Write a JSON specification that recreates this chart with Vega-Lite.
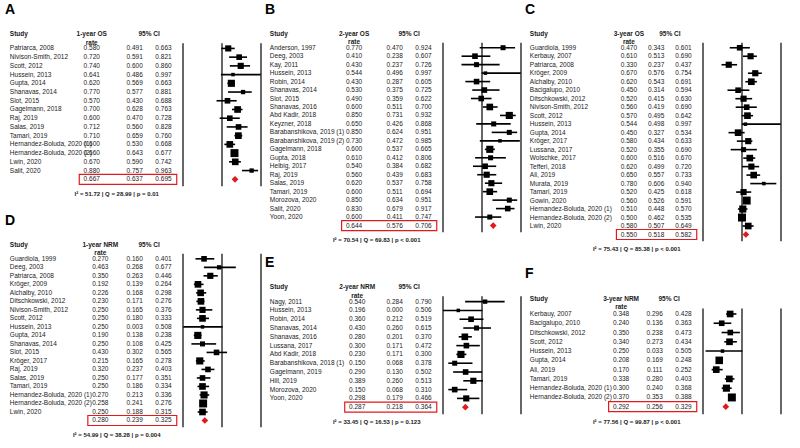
{
"$schema": "https://vega.github.io/schema/vega-lite/v6.json",
"padding": {"left": 5, "top": 3, "right": 0, "bottom": 0},
"background": "white",
"config": {"view": {"stroke": null}, "title": {"anchor": "start", "fontSize": 14, "fontWeight": "bold", "offset": 2, "font": "Liberation Sans", "color": "#000"}, "text": {"font": "Liberation Sans", "fontSize": 6.5, "color": "#1a1a1a", "baseline": "middle"}},
"datasets": {
"panels": [
{"p":"A","metric":"1-year OS\nrate","stats":"I² = 51.72 | Q = 28.99 | p = 0.01"},
{"p":"B","metric":"2-year OS\nrate","stats":"I² = 70.54 | Q = 69.83 | p < 0.001"},
{"p":"C","metric":"3-year OS\nrate","stats":"I² = 75.43 | Q = 85.38 | p < 0.001"},
{"p":"D","metric":"1-year NRM\nrate","stats":"I² = 54.99 | Q = 38.28 | p = 0.004"},
{"p":"E","metric":"2-year NRM\nrate","stats":"I² = 33.45 | Q = 16.53 | p = 0.123"},
{"p":"F","metric":"3-year NRM\nrate","stats":"I² = 77.56 | Q = 99.87 | p < 0.001"}
],
"studies": [
{"p":"A","k":"s","row":1,"study":"Patriarca, 2008","rate":0.580,"lo":0.491,"hi":0.663,"w":5},
{"p":"A","k":"s","row":2,"study":"Nivison-Smith, 2012","rate":0.720,"lo":0.591,"hi":0.821,"w":4},
{"p":"A","k":"s","row":3,"study":"Scott, 2012","rate":0.740,"lo":0.600,"hi":0.860,"w":5},
{"p":"A","k":"s","row":4,"study":"Hussein, 2013","rate":0.641,"lo":0.486,"hi":0.997,"w":1},
{"p":"A","k":"s","row":5,"study":"Gupta, 2014","rate":0.620,"lo":0.569,"hi":0.663,"w":7},
{"p":"A","k":"s","row":6,"study":"Shanavas, 2014","rate":0.770,"lo":0.577,"hi":0.881,"w":2},
{"p":"A","k":"s","row":7,"study":"Slot, 2015","rate":0.570,"lo":0.430,"hi":0.688,"w":4},
{"p":"A","k":"s","row":8,"study":"Gagelmann, 2018","rate":0.700,"lo":0.628,"hi":0.763,"w":6},
{"p":"A","k":"s","row":9,"study":"Raj, 2019","rate":0.600,"lo":0.470,"hi":0.728,"w":4},
{"p":"A","k":"s","row":10,"study":"Salas, 2019","rate":0.712,"lo":0.560,"hi":0.828,"w":4},
{"p":"A","k":"s","row":11,"study":"Tamari, 2019","rate":0.710,"lo":0.659,"hi":0.760,"w":6},
{"p":"A","k":"s","row":12,"study":"Hernandez-Boluda, 2020 (1)","rate":0.600,"lo":0.530,"hi":0.668,"w":6},
{"p":"A","k":"s","row":13,"study":"Hernandez-Boluda, 2020 (2)","rate":0.660,"lo":0.643,"hi":0.677,"w":9},
{"p":"A","k":"s","row":14,"study":"Lwin, 2020","rate":0.670,"lo":0.590,"hi":0.742,"w":6},
{"p":"A","k":"s","row":15,"study":"Salit, 2020","rate":0.880,"lo":0.757,"hi":0.963,"w":2},
{"p":"A","k":"p","row":16,"study":"","rate":0.667,"lo":0.637,"hi":0.695,"w":0},
{"p":"B","k":"s","row":1,"study":"Anderson, 1997","rate":0.770,"lo":0.470,"hi":0.924,"w":3},
{"p":"B","k":"s","row":2,"study":"Deeg, 2003","rate":0.410,"lo":0.238,"hi":0.607,"w":4},
{"p":"B","k":"s","row":3,"study":"Kay, 2011","rate":0.430,"lo":0.237,"hi":0.726,"w":3},
{"p":"B","k":"s","row":4,"study":"Hussein, 2013","rate":0.544,"lo":0.496,"hi":0.997,"w":1},
{"p":"B","k":"s","row":5,"study":"Robin, 2014","rate":0.430,"lo":0.287,"hi":0.605,"w":4},
{"p":"B","k":"s","row":6,"study":"Shanavas, 2014","rate":0.530,"lo":0.375,"hi":0.725,"w":4},
{"p":"B","k":"s","row":7,"study":"Slot, 2015","rate":0.490,"lo":0.359,"hi":0.622,"w":4},
{"p":"B","k":"s","row":8,"study":"Shanavas, 2016","rate":0.600,"lo":0.511,"hi":0.700,"w":6},
{"p":"B","k":"s","row":9,"study":"Abd Kadir, 2018","rate":0.850,"lo":0.731,"hi":0.932,"w":7},
{"p":"B","k":"s","row":10,"study":"Keyzner, 2018","rate":0.650,"lo":0.426,"hi":0.868,"w":3},
{"p":"B","k":"s","row":11,"study":"Barabanshikova, 2019 (1)","rate":0.850,"lo":0.624,"hi":0.951,"w":3},
{"p":"B","k":"s","row":12,"study":"Barabanshikova, 2019 (2)","rate":0.730,"lo":0.472,"hi":0.985,"w":1},
{"p":"B","k":"s","row":13,"study":"Gagelmann, 2018","rate":0.600,"lo":0.537,"hi":0.665,"w":7},
{"p":"B","k":"s","row":14,"study":"Gupta, 2018","rate":0.610,"lo":0.412,"hi":0.806,"w":3},
{"p":"B","k":"s","row":15,"study":"Helbig, 2017","rate":0.540,"lo":0.384,"hi":0.682,"w":4},
{"p":"B","k":"s","row":16,"study":"Raj, 2019","rate":0.560,"lo":0.439,"hi":0.683,"w":5},
{"p":"B","k":"s","row":17,"study":"Salas, 2019","rate":0.620,"lo":0.537,"hi":0.758,"w":5},
{"p":"B","k":"s","row":18,"study":"Tamari, 2019","rate":0.600,"lo":0.511,"hi":0.694,"w":6},
{"p":"B","k":"s","row":19,"study":"Morozova, 2020","rate":0.850,"lo":0.634,"hi":0.951,"w":3},
{"p":"B","k":"s","row":20,"study":"Salit, 2020","rate":0.830,"lo":0.679,"hi":0.917,"w":4},
{"p":"B","k":"s","row":21,"study":"Yoon, 2020","rate":0.600,"lo":0.411,"hi":0.747,"w":3},
{"p":"B","k":"p","row":22,"study":"","rate":0.644,"lo":0.576,"hi":0.706,"w":0},
{"p":"C","k":"s","row":1,"study":"Guardiola, 1999","rate":0.470,"lo":0.343,"hi":0.601,"w":4},
{"p":"C","k":"s","row":2,"study":"Kerbauy, 2007","rate":0.610,"lo":0.513,"hi":0.690,"w":5},
{"p":"C","k":"s","row":3,"study":"Patriarca, 2008","rate":0.330,"lo":0.237,"hi":0.437,"w":5},
{"p":"C","k":"s","row":4,"study":"Kröger, 2009","rate":0.670,"lo":0.576,"hi":0.754,"w":5},
{"p":"C","k":"s","row":5,"study":"Alchalby, 2010","rate":0.620,"lo":0.543,"hi":0.691,"w":6},
{"p":"C","k":"s","row":6,"study":"Bacigalupo, 2010","rate":0.450,"lo":0.314,"hi":0.594,"w":4},
{"p":"C","k":"s","row":7,"study":"Ditschkowski, 2012","rate":0.520,"lo":0.415,"hi":0.630,"w":5},
{"p":"C","k":"s","row":8,"study":"Nivison-Smith, 2012","rate":0.560,"lo":0.419,"hi":0.690,"w":4},
{"p":"C","k":"s","row":9,"study":"Scott, 2012","rate":0.570,"lo":0.495,"hi":0.642,"w":6},
{"p":"C","k":"s","row":10,"study":"Hussein, 2013","rate":0.544,"lo":0.498,"hi":0.997,"w":1},
{"p":"C","k":"s","row":11,"study":"Gupta, 2014","rate":0.450,"lo":0.327,"hi":0.534,"w":6},
{"p":"C","k":"s","row":12,"study":"Kröger, 2017","rate":0.580,"lo":0.434,"hi":0.633,"w":5},
{"p":"C","k":"s","row":13,"study":"Lussana, 2017","rate":0.520,"lo":0.355,"hi":0.690,"w":3},
{"p":"C","k":"s","row":14,"study":"Wolschke, 2017","rate":0.600,"lo":0.516,"hi":0.670,"w":6},
{"p":"C","k":"s","row":15,"study":"Tefferi, 2018","rate":0.620,"lo":0.499,"hi":0.720,"w":5},
{"p":"C","k":"s","row":16,"study":"Ali, 2019","rate":0.650,"lo":0.557,"hi":0.733,"w":6},
{"p":"C","k":"s","row":17,"study":"Murata, 2019","rate":0.780,"lo":0.606,"hi":0.940,"w":1},
{"p":"C","k":"s","row":18,"study":"Tamari, 2019","rate":0.520,"lo":0.425,"hi":0.618,"w":5},
{"p":"C","k":"s","row":19,"study":"Gowin, 2020","rate":0.560,"lo":0.526,"hi":0.591,"w":9},
{"p":"C","k":"s","row":20,"study":"Hernandez-Boluda, 2020 (1)","rate":0.510,"lo":0.448,"hi":0.570,"w":7},
{"p":"C","k":"s","row":21,"study":"Hernandez-Boluda, 2020 (2)","rate":0.500,"lo":0.462,"hi":0.535,"w":9},
{"p":"C","k":"s","row":22,"study":"Lwin, 2020","rate":0.580,"lo":0.507,"hi":0.649,"w":6},
{"p":"C","k":"p","row":23,"study":"","rate":0.550,"lo":0.518,"hi":0.582,"w":0},
{"p":"D","k":"s","row":1,"study":"Guardiola, 1999","rate":0.270,"lo":0.160,"hi":0.401,"w":4},
{"p":"D","k":"s","row":2,"study":"Deeg, 2003","rate":0.463,"lo":0.268,"hi":0.677,"w":2},
{"p":"D","k":"s","row":3,"study":"Patriarca, 2008","rate":0.350,"lo":0.263,"hi":0.446,"w":5},
{"p":"D","k":"s","row":4,"study":"Kröger, 2009","rate":0.192,"lo":0.139,"hi":0.264,"w":6},
{"p":"D","k":"s","row":5,"study":"Alchalby, 2010","rate":0.226,"lo":0.168,"hi":0.298,"w":6},
{"p":"D","k":"s","row":6,"study":"Ditschkowski, 2012","rate":0.230,"lo":0.171,"hi":0.276,"w":6},
{"p":"D","k":"s","row":7,"study":"Nivison-Smith, 2012","rate":0.250,"lo":0.165,"hi":0.376,"w":5},
{"p":"D","k":"s","row":8,"study":"Scott, 2012","rate":0.250,"lo":0.180,"hi":0.333,"w":6},
{"p":"D","k":"s","row":9,"study":"Hussein, 2013","rate":0.250,"lo":0.003,"hi":0.508,"w":1},
{"p":"D","k":"s","row":10,"study":"Gupta, 2014","rate":0.190,"lo":0.138,"hi":0.238,"w":7},
{"p":"D","k":"s","row":11,"study":"Shanavas, 2014","rate":0.250,"lo":0.108,"hi":0.425,"w":3},
{"p":"D","k":"s","row":12,"study":"Slot, 2015","rate":0.430,"lo":0.302,"hi":0.565,"w":4},
{"p":"D","k":"s","row":13,"study":"Kröger, 2017","rate":0.215,"lo":0.165,"hi":0.278,"w":7},
{"p":"D","k":"s","row":14,"study":"Raj, 2019","rate":0.320,"lo":0.237,"hi":0.403,"w":4},
{"p":"D","k":"s","row":15,"study":"Salas, 2019","rate":0.250,"lo":0.177,"hi":0.351,"w":4},
{"p":"D","k":"s","row":16,"study":"Tamari, 2019","rate":0.250,"lo":0.186,"hi":0.334,"w":6},
{"p":"D","k":"s","row":17,"study":"Hernandez-Boluda, 2020 (1)","rate":0.270,"lo":0.213,"hi":0.336,"w":7},
{"p":"D","k":"s","row":18,"study":"Hernandez-Boluda, 2020 (2)","rate":0.258,"lo":0.241,"hi":0.276,"w":9},
{"p":"D","k":"s","row":19,"study":"Lwin, 2020","rate":0.250,"lo":0.188,"hi":0.315,"w":6},
{"p":"D","k":"p","row":20,"study":"","rate":0.280,"lo":0.239,"hi":0.325,"w":0},
{"p":"E","k":"s","row":1,"study":"Nagy, 2011","rate":0.540,"lo":0.284,"hi":0.790,"w":2},
{"p":"E","k":"s","row":2,"study":"Hussein, 2013","rate":0.196,"lo":0.000,"hi":0.506,"w":1},
{"p":"E","k":"s","row":3,"study":"Robin, 2014","rate":0.360,"lo":0.212,"hi":0.519,"w":4},
{"p":"E","k":"s","row":4,"study":"Shanavas, 2014","rate":0.430,"lo":0.260,"hi":0.615,"w":3},
{"p":"E","k":"s","row":5,"study":"Shanavas, 2016","rate":0.280,"lo":0.201,"hi":0.370,"w":6},
{"p":"E","k":"s","row":6,"study":"Lussana, 2017","rate":0.300,"lo":0.171,"hi":0.472,"w":4},
{"p":"E","k":"s","row":7,"study":"Abd Kadir, 2018","rate":0.230,"lo":0.171,"hi":0.300,"w":7},
{"p":"E","k":"s","row":8,"study":"Barabanshikova, 2018 (1)","rate":0.150,"lo":0.068,"hi":0.378,"w":3},
{"p":"E","k":"s","row":9,"study":"Gagelmann, 2019","rate":0.290,"lo":0.130,"hi":0.502,"w":4},
{"p":"E","k":"s","row":10,"study":"Hill, 2019","rate":0.389,"lo":0.260,"hi":0.513,"w":5},
{"p":"E","k":"s","row":11,"study":"Morozova, 2020","rate":0.150,"lo":0.068,"hi":0.310,"w":4},
{"p":"E","k":"s","row":12,"study":"Yoon, 2020","rate":0.298,"lo":0.179,"hi":0.466,"w":5},
{"p":"E","k":"p","row":13,"study":"","rate":0.287,"lo":0.218,"hi":0.364,"w":0},
{"p":"F","k":"s","row":1,"study":"Kerbauy, 2007","rate":0.348,"lo":0.296,"hi":0.428,"w":6},
{"p":"F","k":"s","row":2,"study":"Bacigalupo, 2010","rate":0.240,"lo":0.136,"hi":0.363,"w":4},
{"p":"F","k":"s","row":3,"study":"Ditschkowski, 2012","rate":0.350,"lo":0.238,"hi":0.473,"w":4},
{"p":"F","k":"s","row":4,"study":"Scott, 2012","rate":0.340,"lo":0.273,"hi":0.434,"w":6},
{"p":"F","k":"s","row":5,"study":"Hussein, 2013","rate":0.250,"lo":0.033,"hi":0.505,"w":1},
{"p":"F","k":"s","row":6,"study":"Gupta, 2014","rate":0.208,"lo":0.169,"hi":0.248,"w":8},
{"p":"F","k":"s","row":7,"study":"Ali, 2019","rate":0.170,"lo":0.111,"hi":0.252,"w":6},
{"p":"F","k":"s","row":8,"study":"Tamari, 2019","rate":0.338,"lo":0.280,"hi":0.403,"w":6},
{"p":"F","k":"s","row":9,"study":"Hernandez-Boluda, 2020 (1)","rate":0.300,"lo":0.240,"hi":0.368,"w":7},
{"p":"F","k":"s","row":10,"study":"Hernandez-Boluda, 2020 (2)","rate":0.370,"lo":0.353,"hi":0.388,"w":9},
{"p":"F","k":"p","row":11,"study":"","rate":0.292,"lo":0.256,"hi":0.329,"w":0}
]
},
"bounds": "full",
"spacing": 3,
"hconcat": [
{"vconcat": [
{"title": "A", "width": 256, "height": 174, "layer": [
{"data": {"values": [{"v": 0}, {"v": 0.5}, {"v": 1}]}, "mark": {"type": "rule", "color": "#000", "strokeWidth": 1.2}, "encoding": {"x": {"field": "v", "type": "quantitative", "scale": {"domain": [-2.282, 1], "nice": false, "zero": false}, "axis": {"values": [0, 0.5, 1], "format": ".2f", "title": null, "domain": false, "ticks": false, "grid": false, "labelFontSize": 6, "labelPadding": 3, "labelFont": "Liberation Sans", "labelColor": "#000"}}, "y": {"datum": 0.4, "type": "quantitative", "scale": {"domain": [-1.8, 17], "reverse": true, "nice": false, "zero": false}, "axis": null}, "y2": {"datum": 16.8}}},
{"data": {"name": "studies"}, "transform": [{"filter": "datum.p === 'A' && datum.k === 's'"}], "mark": {"type": "rule", "color": "#000", "strokeWidth": 1.6}, "encoding": {"x": {"field": "lo", "type": "quantitative", "axis": null}, "x2": {"field": "hi"}, "y": {"field": "row", "type": "quantitative", "axis": null}}},
{"data": {"name": "studies"}, "transform": [{"filter": "datum.p === 'A' && datum.k === 's'"}], "mark": {"type": "point", "shape": "square", "filled": true, "color": "#000", "opacity": 1}, "encoding": {"x": {"field": "rate", "type": "quantitative", "axis": null}, "y": {"field": "row", "type": "quantitative", "axis": null}, "size": {"field": "w", "type": "quantitative", "scale": {"domain": [0, 10], "range": [6, 70]}, "legend": null}}},
{"data": {"name": "studies"}, "transform": [{"filter": "datum.p === 'A' && datum.k === 'p'"}], "mark": {"type": "point", "shape": "diamond", "filled": true, "color": "#e3191c", "opacity": 1, "size": 45}, "encoding": {"x": {"field": "rate", "type": "quantitative", "axis": null}, "y": {"field": "row", "type": "quantitative", "axis": null}}},
{"data": {"name": "studies"}, "transform": [{"filter": "datum.p === 'A' && datum.k === 'p'"}], "mark": {"type": "bar", "orient": "horizontal", "height": 10, "fillOpacity": 0, "stroke": "#e3191c", "strokeWidth": 1.2}, "encoding": {"x": {"datum": -1.33, "type": "quantitative", "axis": null}, "x2": {"datum": -0.08}, "y": {"field": "row", "type": "quantitative", "axis": null}}},
{"data": {"name": "studies"}, "transform": [{"filter": "datum.p === 'A' && datum.k === 's'"}], "mark": {"type": "text", "align": "left"}, "encoding": {"x": {"datum": -2.22, "type": "quantitative", "axis": null}, "y": {"field": "row", "type": "quantitative", "axis": null}, "text": {"field": "study"}}},
{"data": {"name": "studies"}, "transform": [{"filter": "datum.p === 'A'"}], "mark": {"type": "text", "align": "center"}, "encoding": {"x": {"datum": -1.17, "type": "quantitative", "axis": null}, "y": {"field": "row", "type": "quantitative", "axis": null}, "text": {"field": "rate", "format": ".3f"}}},
{"data": {"name": "studies"}, "transform": [{"filter": "datum.p === 'A'"}], "mark": {"type": "text", "align": "center"}, "encoding": {"x": {"datum": -0.62, "type": "quantitative", "axis": null}, "y": {"field": "row", "type": "quantitative", "axis": null}, "text": {"field": "lo", "format": ".3f"}}},
{"data": {"name": "studies"}, "transform": [{"filter": "datum.p === 'A'"}], "mark": {"type": "text", "align": "center"}, "encoding": {"x": {"datum": -0.25, "type": "quantitative", "axis": null}, "y": {"field": "row", "type": "quantitative", "axis": null}, "text": {"field": "hi", "format": ".3f"}}},
{"data": {"name": "panels"}, "transform": [{"filter": "datum.p === 'A'"}], "mark": {"type": "text", "align": "left", "fontWeight": "bold"}, "encoding": {"x": {"datum": -2.22, "type": "quantitative", "axis": null}, "y": {"datum": -0.65, "type": "quantitative", "axis": null}, "text": {"value": "Study"}}},
{"data": {"name": "panels"}, "transform": [{"filter": "datum.p === 'A'"}], "mark": {"type": "text", "align": "center", "fontWeight": "bold", "lineBreak": "\n", "lineHeight": 8.5}, "encoding": {"x": {"datum": -1.17, "type": "quantitative", "axis": null}, "y": {"datum": -0.65, "type": "quantitative", "axis": null}, "text": {"field": "metric"}}},
{"data": {"name": "panels"}, "transform": [{"filter": "datum.p === 'A'"}], "mark": {"type": "text", "align": "center", "fontWeight": "bold"}, "encoding": {"x": {"datum": -0.435, "type": "quantitative", "axis": null}, "y": {"datum": -0.65, "type": "quantitative", "axis": null}, "text": {"value": "95% CI"}}},
{"data": {"name": "panels"}, "transform": [{"filter": "datum.p === 'A'"}], "mark": {"type": "text", "align": "center", "baseline": "top", "dy": 3, "fontWeight": "bold", "fontSize": 6}, "encoding": {"x": {"datum": -0.85, "type": "quantitative", "axis": null}, "y": {"datum": 17, "type": "quantitative", "axis": null}, "text": {"field": "stats"}}}
]},
{"title": "D", "width": 256, "height": 204, "layer": [
{"data": {"values": [{"v": 0}, {"v": 0.5}, {"v": 1}]}, "mark": {"type": "rule", "color": "#000", "strokeWidth": 1.2}, "encoding": {"x": {"field": "v", "type": "quantitative", "scale": {"domain": [-2.282, 1], "nice": false, "zero": false}, "axis": {"values": [0, 0.5, 1], "format": ".2f", "title": null, "domain": false, "ticks": false, "grid": false, "labelFontSize": 6, "labelPadding": 3, "labelFont": "Liberation Sans", "labelColor": "#000"}}, "y": {"datum": 0.4, "type": "quantitative", "scale": {"domain": [-1.8, 21], "reverse": true, "nice": false, "zero": false}, "axis": null}, "y2": {"datum": 20.8}}},
{"data": {"name": "studies"}, "transform": [{"filter": "datum.p === 'D' && datum.k === 's'"}], "mark": {"type": "rule", "color": "#000", "strokeWidth": 1.6}, "encoding": {"x": {"field": "lo", "type": "quantitative", "axis": null}, "x2": {"field": "hi"}, "y": {"field": "row", "type": "quantitative", "axis": null}}},
{"data": {"name": "studies"}, "transform": [{"filter": "datum.p === 'D' && datum.k === 's'"}], "mark": {"type": "point", "shape": "square", "filled": true, "color": "#000", "opacity": 1}, "encoding": {"x": {"field": "rate", "type": "quantitative", "axis": null}, "y": {"field": "row", "type": "quantitative", "axis": null}, "size": {"field": "w", "type": "quantitative", "scale": {"domain": [0, 10], "range": [6, 70]}, "legend": null}}},
{"data": {"name": "studies"}, "transform": [{"filter": "datum.p === 'D' && datum.k === 'p'"}], "mark": {"type": "point", "shape": "diamond", "filled": true, "color": "#e3191c", "opacity": 1, "size": 45}, "encoding": {"x": {"field": "rate", "type": "quantitative", "axis": null}, "y": {"field": "row", "type": "quantitative", "axis": null}}},
{"data": {"name": "studies"}, "transform": [{"filter": "datum.p === 'D' && datum.k === 'p'"}], "mark": {"type": "bar", "orient": "horizontal", "height": 10, "fillOpacity": 0, "stroke": "#e3191c", "strokeWidth": 1.2}, "encoding": {"x": {"datum": -1.22, "type": "quantitative", "axis": null}, "x2": {"datum": -0.08}, "y": {"field": "row", "type": "quantitative", "axis": null}}},
{"data": {"name": "studies"}, "transform": [{"filter": "datum.p === 'D' && datum.k === 's'"}], "mark": {"type": "text", "align": "left"}, "encoding": {"x": {"datum": -2.22, "type": "quantitative", "axis": null}, "y": {"field": "row", "type": "quantitative", "axis": null}, "text": {"field": "study"}}},
{"data": {"name": "studies"}, "transform": [{"filter": "datum.p === 'D'"}], "mark": {"type": "text", "align": "center"}, "encoding": {"x": {"datum": -1.06, "type": "quantitative", "axis": null}, "y": {"field": "row", "type": "quantitative", "axis": null}, "text": {"field": "rate", "format": ".3f"}}},
{"data": {"name": "studies"}, "transform": [{"filter": "datum.p === 'D'"}], "mark": {"type": "text", "align": "center"}, "encoding": {"x": {"datum": -0.62, "type": "quantitative", "axis": null}, "y": {"field": "row", "type": "quantitative", "axis": null}, "text": {"field": "lo", "format": ".3f"}}},
{"data": {"name": "studies"}, "transform": [{"filter": "datum.p === 'D'"}], "mark": {"type": "text", "align": "center"}, "encoding": {"x": {"datum": -0.25, "type": "quantitative", "axis": null}, "y": {"field": "row", "type": "quantitative", "axis": null}, "text": {"field": "hi", "format": ".3f"}}},
{"data": {"name": "panels"}, "transform": [{"filter": "datum.p === 'D'"}], "mark": {"type": "text", "align": "left", "fontWeight": "bold"}, "encoding": {"x": {"datum": -2.22, "type": "quantitative", "axis": null}, "y": {"datum": -0.65, "type": "quantitative", "axis": null}, "text": {"value": "Study"}}},
{"data": {"name": "panels"}, "transform": [{"filter": "datum.p === 'D'"}], "mark": {"type": "text", "align": "center", "fontWeight": "bold", "lineBreak": "\n", "lineHeight": 8.5}, "encoding": {"x": {"datum": -1.06, "type": "quantitative", "axis": null}, "y": {"datum": -0.65, "type": "quantitative", "axis": null}, "text": {"field": "metric"}}},
{"data": {"name": "panels"}, "transform": [{"filter": "datum.p === 'D'"}], "mark": {"type": "text", "align": "center", "fontWeight": "bold"}, "encoding": {"x": {"datum": -0.435, "type": "quantitative", "axis": null}, "y": {"datum": -0.65, "type": "quantitative", "axis": null}, "text": {"value": "95% CI"}}},
{"data": {"name": "panels"}, "transform": [{"filter": "datum.p === 'D'"}], "mark": {"type": "text", "align": "center", "baseline": "top", "dy": 3, "fontWeight": "bold", "fontSize": 6}, "encoding": {"x": {"datum": -0.85, "type": "quantitative", "axis": null}, "y": {"datum": 21, "type": "quantitative", "axis": null}, "text": {"field": "stats"}}}
]}
], "spacing": 37, "bounds": "flush"},
{"vconcat": [
{"title": "B", "width": 256, "height": 220, "layer": [
{"data": {"values": [{"v": 0}, {"v": 0.5}, {"v": 1}]}, "mark": {"type": "rule", "color": "#000", "strokeWidth": 1.2}, "encoding": {"x": {"field": "v", "type": "quantitative", "scale": {"domain": [-2.282, 1], "nice": false, "zero": false}, "axis": {"values": [0, 0.5, 1], "format": ".2f", "title": null, "domain": false, "ticks": false, "grid": false, "labelFontSize": 6, "labelPadding": 3, "labelFont": "Liberation Sans", "labelColor": "#000"}}, "y": {"datum": 0.4, "type": "quantitative", "scale": {"domain": [-1.8, 23], "reverse": true, "nice": false, "zero": false}, "axis": null}, "y2": {"datum": 22.8}}},
{"data": {"name": "studies"}, "transform": [{"filter": "datum.p === 'B' && datum.k === 's'"}], "mark": {"type": "rule", "color": "#000", "strokeWidth": 1.6}, "encoding": {"x": {"field": "lo", "type": "quantitative", "axis": null}, "x2": {"field": "hi"}, "y": {"field": "row", "type": "quantitative", "axis": null}}},
{"data": {"name": "studies"}, "transform": [{"filter": "datum.p === 'B' && datum.k === 's'"}], "mark": {"type": "point", "shape": "square", "filled": true, "color": "#000", "opacity": 1}, "encoding": {"x": {"field": "rate", "type": "quantitative", "axis": null}, "y": {"field": "row", "type": "quantitative", "axis": null}, "size": {"field": "w", "type": "quantitative", "scale": {"domain": [0, 10], "range": [6, 70]}, "legend": null}}},
{"data": {"name": "studies"}, "transform": [{"filter": "datum.p === 'B' && datum.k === 'p'"}], "mark": {"type": "point", "shape": "diamond", "filled": true, "color": "#e3191c", "opacity": 1, "size": 45}, "encoding": {"x": {"field": "rate", "type": "quantitative", "axis": null}, "y": {"field": "row", "type": "quantitative", "axis": null}}},
{"data": {"name": "studies"}, "transform": [{"filter": "datum.p === 'B' && datum.k === 'p'"}], "mark": {"type": "bar", "orient": "horizontal", "height": 10, "fillOpacity": 0, "stroke": "#e3191c", "strokeWidth": 1.2}, "encoding": {"x": {"datum": -1.30, "type": "quantitative", "axis": null}, "x2": {"datum": -0.08}, "y": {"field": "row", "type": "quantitative", "axis": null}}},
{"data": {"name": "studies"}, "transform": [{"filter": "datum.p === 'B' && datum.k === 's'"}], "mark": {"type": "text", "align": "left"}, "encoding": {"x": {"datum": -2.22, "type": "quantitative", "axis": null}, "y": {"field": "row", "type": "quantitative", "axis": null}, "text": {"field": "study"}}},
{"data": {"name": "studies"}, "transform": [{"filter": "datum.p === 'B'"}], "mark": {"type": "text", "align": "center"}, "encoding": {"x": {"datum": -1.14, "type": "quantitative", "axis": null}, "y": {"field": "row", "type": "quantitative", "axis": null}, "text": {"field": "rate", "format": ".3f"}}},
{"data": {"name": "studies"}, "transform": [{"filter": "datum.p === 'B'"}], "mark": {"type": "text", "align": "center"}, "encoding": {"x": {"datum": -0.62, "type": "quantitative", "axis": null}, "y": {"field": "row", "type": "quantitative", "axis": null}, "text": {"field": "lo", "format": ".3f"}}},
{"data": {"name": "studies"}, "transform": [{"filter": "datum.p === 'B'"}], "mark": {"type": "text", "align": "center"}, "encoding": {"x": {"datum": -0.25, "type": "quantitative", "axis": null}, "y": {"field": "row", "type": "quantitative", "axis": null}, "text": {"field": "hi", "format": ".3f"}}},
{"data": {"name": "panels"}, "transform": [{"filter": "datum.p === 'B'"}], "mark": {"type": "text", "align": "left", "fontWeight": "bold"}, "encoding": {"x": {"datum": -2.22, "type": "quantitative", "axis": null}, "y": {"datum": -0.65, "type": "quantitative", "axis": null}, "text": {"value": "Study"}}},
{"data": {"name": "panels"}, "transform": [{"filter": "datum.p === 'B'"}], "mark": {"type": "text", "align": "center", "fontWeight": "bold", "lineBreak": "\n", "lineHeight": 8.5}, "encoding": {"x": {"datum": -1.14, "type": "quantitative", "axis": null}, "y": {"datum": -0.65, "type": "quantitative", "axis": null}, "text": {"field": "metric"}}},
{"data": {"name": "panels"}, "transform": [{"filter": "datum.p === 'B'"}], "mark": {"type": "text", "align": "center", "fontWeight": "bold"}, "encoding": {"x": {"datum": -0.435, "type": "quantitative", "axis": null}, "y": {"datum": -0.65, "type": "quantitative", "axis": null}, "text": {"value": "95% CI"}}},
{"data": {"name": "panels"}, "transform": [{"filter": "datum.p === 'B'"}], "mark": {"type": "text", "align": "center", "baseline": "top", "dy": 3, "fontWeight": "bold", "fontSize": 6}, "encoding": {"x": {"datum": -0.85, "type": "quantitative", "axis": null}, "y": {"datum": 23, "type": "quantitative", "axis": null}, "text": {"field": "stats"}}}
]},
{"title": "E", "width": 256, "height": 149, "layer": [
{"data": {"values": [{"v": 0}, {"v": 0.5}, {"v": 1}]}, "mark": {"type": "rule", "color": "#000", "strokeWidth": 1.2}, "encoding": {"x": {"field": "v", "type": "quantitative", "scale": {"domain": [-2.282, 1], "nice": false, "zero": false}, "axis": {"values": [0, 0.5, 1], "format": ".2f", "title": null, "domain": false, "ticks": false, "grid": false, "labelFontSize": 6, "labelPadding": 3, "labelFont": "Liberation Sans", "labelColor": "#000"}}, "y": {"datum": 0.4, "type": "quantitative", "scale": {"domain": [-1.8, 14], "reverse": true, "nice": false, "zero": false}, "axis": null}, "y2": {"datum": 13.8}}},
{"data": {"name": "studies"}, "transform": [{"filter": "datum.p === 'E' && datum.k === 's'"}], "mark": {"type": "rule", "color": "#000", "strokeWidth": 1.6}, "encoding": {"x": {"field": "lo", "type": "quantitative", "axis": null}, "x2": {"field": "hi"}, "y": {"field": "row", "type": "quantitative", "axis": null}}},
{"data": {"name": "studies"}, "transform": [{"filter": "datum.p === 'E' && datum.k === 's'"}], "mark": {"type": "point", "shape": "square", "filled": true, "color": "#000", "opacity": 1}, "encoding": {"x": {"field": "rate", "type": "quantitative", "axis": null}, "y": {"field": "row", "type": "quantitative", "axis": null}, "size": {"field": "w", "type": "quantitative", "scale": {"domain": [0, 10], "range": [6, 70]}, "legend": null}}},
{"data": {"name": "studies"}, "transform": [{"filter": "datum.p === 'E' && datum.k === 'p'"}], "mark": {"type": "point", "shape": "diamond", "filled": true, "color": "#e3191c", "opacity": 1, "size": 45}, "encoding": {"x": {"field": "rate", "type": "quantitative", "axis": null}, "y": {"field": "row", "type": "quantitative", "axis": null}}},
{"data": {"name": "studies"}, "transform": [{"filter": "datum.p === 'E' && datum.k === 'p'"}], "mark": {"type": "bar", "orient": "horizontal", "height": 10, "fillOpacity": 0, "stroke": "#e3191c", "strokeWidth": 1.2}, "encoding": {"x": {"datum": -1.26, "type": "quantitative", "axis": null}, "x2": {"datum": -0.08}, "y": {"field": "row", "type": "quantitative", "axis": null}}},
{"data": {"name": "studies"}, "transform": [{"filter": "datum.p === 'E' && datum.k === 's'"}], "mark": {"type": "text", "align": "left"}, "encoding": {"x": {"datum": -2.22, "type": "quantitative", "axis": null}, "y": {"field": "row", "type": "quantitative", "axis": null}, "text": {"field": "study"}}},
{"data": {"name": "studies"}, "transform": [{"filter": "datum.p === 'E'"}], "mark": {"type": "text", "align": "center"}, "encoding": {"x": {"datum": -1.10, "type": "quantitative", "axis": null}, "y": {"field": "row", "type": "quantitative", "axis": null}, "text": {"field": "rate", "format": ".3f"}}},
{"data": {"name": "studies"}, "transform": [{"filter": "datum.p === 'E'"}], "mark": {"type": "text", "align": "center"}, "encoding": {"x": {"datum": -0.62, "type": "quantitative", "axis": null}, "y": {"field": "row", "type": "quantitative", "axis": null}, "text": {"field": "lo", "format": ".3f"}}},
{"data": {"name": "studies"}, "transform": [{"filter": "datum.p === 'E'"}], "mark": {"type": "text", "align": "center"}, "encoding": {"x": {"datum": -0.25, "type": "quantitative", "axis": null}, "y": {"field": "row", "type": "quantitative", "axis": null}, "text": {"field": "hi", "format": ".3f"}}},
{"data": {"name": "panels"}, "transform": [{"filter": "datum.p === 'E'"}], "mark": {"type": "text", "align": "left", "fontWeight": "bold"}, "encoding": {"x": {"datum": -2.22, "type": "quantitative", "axis": null}, "y": {"datum": -0.65, "type": "quantitative", "axis": null}, "text": {"value": "Study"}}},
{"data": {"name": "panels"}, "transform": [{"filter": "datum.p === 'E'"}], "mark": {"type": "text", "align": "center", "fontWeight": "bold", "lineBreak": "\n", "lineHeight": 8.5}, "encoding": {"x": {"datum": -1.10, "type": "quantitative", "axis": null}, "y": {"datum": -0.65, "type": "quantitative", "axis": null}, "text": {"field": "metric"}}},
{"data": {"name": "panels"}, "transform": [{"filter": "datum.p === 'E'"}], "mark": {"type": "text", "align": "center", "fontWeight": "bold"}, "encoding": {"x": {"datum": -0.435, "type": "quantitative", "axis": null}, "y": {"datum": -0.65, "type": "quantitative", "axis": null}, "text": {"value": "95% CI"}}},
{"data": {"name": "panels"}, "transform": [{"filter": "datum.p === 'E'"}], "mark": {"type": "text", "align": "center", "baseline": "top", "dy": 3, "fontWeight": "bold", "fontSize": 6}, "encoding": {"x": {"datum": -0.85, "type": "quantitative", "axis": null}, "y": {"datum": 14, "type": "quantitative", "axis": null}, "text": {"field": "stats"}}}
]}
], "spacing": 33, "bounds": "flush"},
{"vconcat": [
{"title": "C", "width": 256, "height": 229, "layer": [
{"data": {"values": [{"v": 0}, {"v": 0.5}, {"v": 1}]}, "mark": {"type": "rule", "color": "#000", "strokeWidth": 1.2}, "encoding": {"x": {"field": "v", "type": "quantitative", "scale": {"domain": [-2.282, 1], "nice": false, "zero": false}, "axis": {"values": [0, 0.5, 1], "format": ".2f", "title": null, "domain": false, "ticks": false, "grid": false, "labelFontSize": 6, "labelPadding": 3, "labelFont": "Liberation Sans", "labelColor": "#000"}}, "y": {"datum": 0.4, "type": "quantitative", "scale": {"domain": [-1.8, 24], "reverse": true, "nice": false, "zero": false}, "axis": null}, "y2": {"datum": 23.8}}},
{"data": {"name": "studies"}, "transform": [{"filter": "datum.p === 'C' && datum.k === 's'"}], "mark": {"type": "rule", "color": "#000", "strokeWidth": 1.6}, "encoding": {"x": {"field": "lo", "type": "quantitative", "axis": null}, "x2": {"field": "hi"}, "y": {"field": "row", "type": "quantitative", "axis": null}}},
{"data": {"name": "studies"}, "transform": [{"filter": "datum.p === 'C' && datum.k === 's'"}], "mark": {"type": "point", "shape": "square", "filled": true, "color": "#000", "opacity": 1}, "encoding": {"x": {"field": "rate", "type": "quantitative", "axis": null}, "y": {"field": "row", "type": "quantitative", "axis": null}, "size": {"field": "w", "type": "quantitative", "scale": {"domain": [0, 10], "range": [6, 70]}, "legend": null}}},
{"data": {"name": "studies"}, "transform": [{"filter": "datum.p === 'C' && datum.k === 'p'"}], "mark": {"type": "point", "shape": "diamond", "filled": true, "color": "#e3191c", "opacity": 1, "size": 45}, "encoding": {"x": {"field": "rate", "type": "quantitative", "axis": null}, "y": {"field": "row", "type": "quantitative", "axis": null}}},
{"data": {"name": "studies"}, "transform": [{"filter": "datum.p === 'C' && datum.k === 'p'"}], "mark": {"type": "bar", "orient": "horizontal", "height": 10, "fillOpacity": 0, "stroke": "#e3191c", "strokeWidth": 1.2}, "encoding": {"x": {"datum": -1.11, "type": "quantitative", "axis": null}, "x2": {"datum": -0.08}, "y": {"field": "row", "type": "quantitative", "axis": null}}},
{"data": {"name": "studies"}, "transform": [{"filter": "datum.p === 'C' && datum.k === 's'"}], "mark": {"type": "text", "align": "left"}, "encoding": {"x": {"datum": -2.22, "type": "quantitative", "axis": null}, "y": {"field": "row", "type": "quantitative", "axis": null}, "text": {"field": "study"}}},
{"data": {"name": "studies"}, "transform": [{"filter": "datum.p === 'C'"}], "mark": {"type": "text", "align": "center"}, "encoding": {"x": {"datum": -0.95, "type": "quantitative", "axis": null}, "y": {"field": "row", "type": "quantitative", "axis": null}, "text": {"field": "rate", "format": ".3f"}}},
{"data": {"name": "studies"}, "transform": [{"filter": "datum.p === 'C'"}], "mark": {"type": "text", "align": "center"}, "encoding": {"x": {"datum": -0.60, "type": "quantitative", "axis": null}, "y": {"field": "row", "type": "quantitative", "axis": null}, "text": {"field": "lo", "format": ".3f"}}},
{"data": {"name": "studies"}, "transform": [{"filter": "datum.p === 'C'"}], "mark": {"type": "text", "align": "center"}, "encoding": {"x": {"datum": -0.25, "type": "quantitative", "axis": null}, "y": {"field": "row", "type": "quantitative", "axis": null}, "text": {"field": "hi", "format": ".3f"}}},
{"data": {"name": "panels"}, "transform": [{"filter": "datum.p === 'C'"}], "mark": {"type": "text", "align": "left", "fontWeight": "bold"}, "encoding": {"x": {"datum": -2.22, "type": "quantitative", "axis": null}, "y": {"datum": -0.65, "type": "quantitative", "axis": null}, "text": {"value": "Study"}}},
{"data": {"name": "panels"}, "transform": [{"filter": "datum.p === 'C'"}], "mark": {"type": "text", "align": "center", "fontWeight": "bold", "lineBreak": "\n", "lineHeight": 8.5}, "encoding": {"x": {"datum": -0.95, "type": "quantitative", "axis": null}, "y": {"datum": -0.65, "type": "quantitative", "axis": null}, "text": {"field": "metric"}}},
{"data": {"name": "panels"}, "transform": [{"filter": "datum.p === 'C'"}], "mark": {"type": "text", "align": "center", "fontWeight": "bold"}, "encoding": {"x": {"datum": -0.425, "type": "quantitative", "axis": null}, "y": {"datum": -0.65, "type": "quantitative", "axis": null}, "text": {"value": "95% CI"}}},
{"data": {"name": "panels"}, "transform": [{"filter": "datum.p === 'C'"}], "mark": {"type": "text", "align": "center", "baseline": "top", "dy": 3, "fontWeight": "bold", "fontSize": 6}, "encoding": {"x": {"datum": -0.85, "type": "quantitative", "axis": null}, "y": {"datum": 24, "type": "quantitative", "axis": null}, "text": {"field": "stats"}}}
]},
{"title": "F", "width": 256, "height": 138, "layer": [
{"data": {"values": [{"v": 0}, {"v": 0.5}, {"v": 1}]}, "mark": {"type": "rule", "color": "#000", "strokeWidth": 1.2}, "encoding": {"x": {"field": "v", "type": "quantitative", "scale": {"domain": [-2.282, 1], "nice": false, "zero": false}, "axis": {"values": [0, 0.5, 1], "format": ".2f", "title": null, "domain": false, "ticks": false, "grid": false, "labelFontSize": 6, "labelPadding": 3, "labelFont": "Liberation Sans", "labelColor": "#000"}}, "y": {"datum": 0.4, "type": "quantitative", "scale": {"domain": [-1.8, 12], "reverse": true, "nice": false, "zero": false}, "axis": null}, "y2": {"datum": 11.8}}},
{"data": {"name": "studies"}, "transform": [{"filter": "datum.p === 'F' && datum.k === 's'"}], "mark": {"type": "rule", "color": "#000", "strokeWidth": 1.6}, "encoding": {"x": {"field": "lo", "type": "quantitative", "axis": null}, "x2": {"field": "hi"}, "y": {"field": "row", "type": "quantitative", "axis": null}}},
{"data": {"name": "studies"}, "transform": [{"filter": "datum.p === 'F' && datum.k === 's'"}], "mark": {"type": "point", "shape": "square", "filled": true, "color": "#000", "opacity": 1}, "encoding": {"x": {"field": "rate", "type": "quantitative", "axis": null}, "y": {"field": "row", "type": "quantitative", "axis": null}, "size": {"field": "w", "type": "quantitative", "scale": {"domain": [0, 10], "range": [6, 70]}, "legend": null}}},
{"data": {"name": "studies"}, "transform": [{"filter": "datum.p === 'F' && datum.k === 'p'"}], "mark": {"type": "point", "shape": "diamond", "filled": true, "color": "#e3191c", "opacity": 1, "size": 45}, "encoding": {"x": {"field": "rate", "type": "quantitative", "axis": null}, "y": {"field": "row", "type": "quantitative", "axis": null}}},
{"data": {"name": "studies"}, "transform": [{"filter": "datum.p === 'F' && datum.k === 'p'"}], "mark": {"type": "bar", "orient": "horizontal", "height": 10, "fillOpacity": 0, "stroke": "#e3191c", "strokeWidth": 1.2}, "encoding": {"x": {"datum": -1.21, "type": "quantitative", "axis": null}, "x2": {"datum": -0.08}, "y": {"field": "row", "type": "quantitative", "axis": null}}},
{"data": {"name": "studies"}, "transform": [{"filter": "datum.p === 'F' && datum.k === 's'"}], "mark": {"type": "text", "align": "left"}, "encoding": {"x": {"datum": -2.22, "type": "quantitative", "axis": null}, "y": {"field": "row", "type": "quantitative", "axis": null}, "text": {"field": "study"}}},
{"data": {"name": "studies"}, "transform": [{"filter": "datum.p === 'F'"}], "mark": {"type": "text", "align": "center"}, "encoding": {"x": {"datum": -1.05, "type": "quantitative", "axis": null}, "y": {"field": "row", "type": "quantitative", "axis": null}, "text": {"field": "rate", "format": ".3f"}}},
{"data": {"name": "studies"}, "transform": [{"filter": "datum.p === 'F'"}], "mark": {"type": "text", "align": "center"}, "encoding": {"x": {"datum": -0.62, "type": "quantitative", "axis": null}, "y": {"field": "row", "type": "quantitative", "axis": null}, "text": {"field": "lo", "format": ".3f"}}},
{"data": {"name": "studies"}, "transform": [{"filter": "datum.p === 'F'"}], "mark": {"type": "text", "align": "center"}, "encoding": {"x": {"datum": -0.25, "type": "quantitative", "axis": null}, "y": {"field": "row", "type": "quantitative", "axis": null}, "text": {"field": "hi", "format": ".3f"}}},
{"data": {"name": "panels"}, "transform": [{"filter": "datum.p === 'F'"}], "mark": {"type": "text", "align": "left", "fontWeight": "bold"}, "encoding": {"x": {"datum": -2.22, "type": "quantitative", "axis": null}, "y": {"datum": -0.65, "type": "quantitative", "axis": null}, "text": {"value": "Study"}}},
{"data": {"name": "panels"}, "transform": [{"filter": "datum.p === 'F'"}], "mark": {"type": "text", "align": "center", "fontWeight": "bold", "lineBreak": "\n", "lineHeight": 8.5}, "encoding": {"x": {"datum": -1.05, "type": "quantitative", "axis": null}, "y": {"datum": -0.65, "type": "quantitative", "axis": null}, "text": {"field": "metric"}}},
{"data": {"name": "panels"}, "transform": [{"filter": "datum.p === 'F'"}], "mark": {"type": "text", "align": "center", "fontWeight": "bold"}, "encoding": {"x": {"datum": -0.435, "type": "quantitative", "axis": null}, "y": {"datum": -0.65, "type": "quantitative", "axis": null}, "text": {"value": "95% CI"}}},
{"data": {"name": "panels"}, "transform": [{"filter": "datum.p === 'F'"}], "mark": {"type": "text", "align": "center", "baseline": "top", "dy": 3, "fontWeight": "bold", "fontSize": 6}, "encoding": {"x": {"datum": -0.85, "type": "quantitative", "axis": null}, "y": {"datum": 12, "type": "quantitative", "axis": null}, "text": {"field": "stats"}}}
]}
], "spacing": 35, "bounds": "flush"}
]
}
